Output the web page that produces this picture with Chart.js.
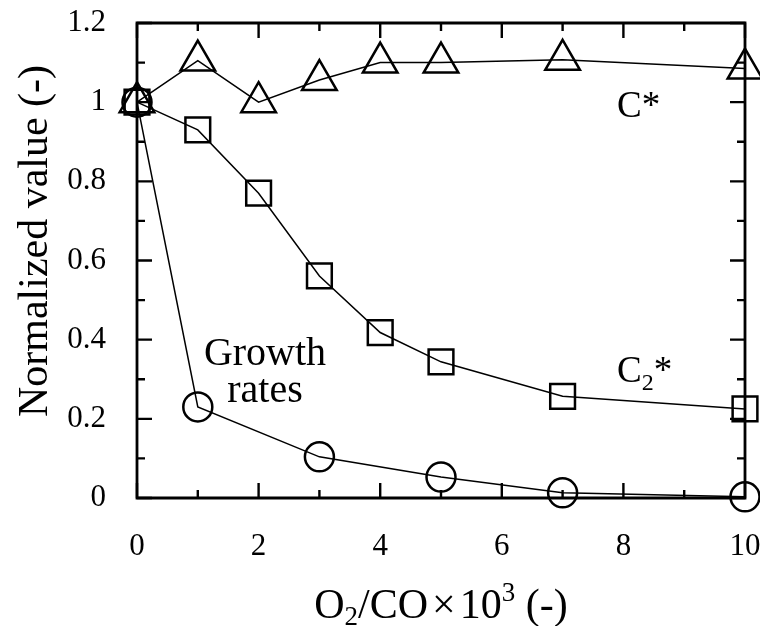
<!DOCTYPE html>
<html>
<head>
<meta charset="utf-8">
<script src="https://cdn.jsdelivr.net/npm/chart.js@4.4.1/dist/chart.umd.min.js"></script>
<style>
  html, body { margin: 0; padding: 0; background: #fff; }
  #wrap { width: 760px; height: 626px; position: relative; }
</style>
</head>
<body>
<div id="wrap"><canvas id="c" width="760" height="626"></canvas></div>
<script>
// ---- data ----
const xCStar = [0, 1, 2, 3, 4, 5, 7, 10];
const cStar = [1.0, 1.105, 1.0, 1.056, 1.10, 1.10, 1.107, 1.085];

const xC2Star = [0, 1, 2, 3, 4, 5, 7, 10];
const c2Star = [1.0, 0.93, 0.77, 0.561, 0.418, 0.344, 0.257, 0.225];

const xGrowth = [0, 1, 3, 5, 7, 10];
const growth = [1.0, 0.23, 0.104, 0.053, 0.013, 0.003];

const xTickValues = [0, 2, 4, 6, 8, 10];
const yTickValues = [0, 0.2, 0.4, 0.6, 0.8, 1, 1.2];

const yTitle = 'Normalized value (-)';
const labelCStar = 'C*';
const labelGrowth = ['Growth', 'rates'];

const SERIF = '"Liberation Serif", "Times New Roman", Times, serif';

function pts(xs, ys) { return xs.map((x, i) => ({ x: x, y: ys[i] })); }

const decorPlugin = {
  id: 'decor',
  beforeDatasetsDraw(chart) {
    const ctx = chart.ctx;
    const xs = chart.scales.x, ys = chart.scales.y;
    const L = xs.getPixelForValue(0), R = xs.getPixelForValue(10);
    const T = ys.getPixelForValue(1.2), B = ys.getPixelForValue(0);
    ctx.save();
    ctx.strokeStyle = '#000';
    ctx.lineCap = 'butt';
    ctx.lineWidth = 2.8;
    ctx.beginPath();
    ctx.rect(L, T, R - L, B - T);
    ctx.stroke();
    ctx.lineWidth = 2.4;
    const major = 15, minor = 8;
    for (let v = 0; v <= 10; v++) {
      const px = xs.getPixelForValue(v);
      const len = (v % 2 === 0) ? major : minor;
      ctx.beginPath();
      ctx.moveTo(px, B); ctx.lineTo(px, B - len);
      ctx.moveTo(px, T); ctx.lineTo(px, T + len);
      ctx.stroke();
    }
    for (let k = 0; k <= 12; k++) {
      const py = ys.getPixelForValue(k / 10);
      const len = (k % 2 === 0) ? major : minor;
      ctx.beginPath();
      ctx.moveTo(L, py); ctx.lineTo(L + len, py);
      ctx.moveTo(R, py); ctx.lineTo(R - len, py);
      ctx.stroke();
    }
    ctx.restore();
  },
  afterDraw(chart) {
    const ctx = chart.ctx;
    const ca = chart.chartArea;
    ctx.save();
    ctx.fillStyle = '#000';
    ctx.textBaseline = 'alphabetic';

    // y axis title
    ctx.save();
    ctx.translate(47, 241);
    ctx.rotate(-Math.PI / 2);
    ctx.font = '42px ' + SERIF;
    ctx.textAlign = 'center';
    ctx.fillText(yTitle, 0, 0);
    ctx.restore();

    // x axis title with sub/superscript
    const big = '42px ' + SERIF, small = '27px ' + SERIF;
    const parts = [
      { t: 'O', f: big, dy: 0 },
      { t: '2', f: small, dy: 7 },
      { t: '/CO', f: big, dy: 0 },
      { t: '\u00D7', f: big, dy: 0, padL: 4, padR: 4 },
      { t: '10', f: big, dy: 0 },
      { t: '3', f: small, dy: -17 },
      { t: ' (-)', f: big, dy: 0 }
    ];
    let total = 0;
    parts.forEach(p => { ctx.font = p.f; p.w = ctx.measureText(p.t).width + (p.padL || 0) + (p.padR || 0); total += p.w; });
    let cx = (ca.left + ca.right) / 2 - total / 2;
    const baseY = 618;
    ctx.textAlign = 'left';
    parts.forEach(p => { ctx.font = p.f; ctx.fillText(p.t, cx + (p.padL || 0), baseY + p.dy); cx += p.w; });

    // C* label
    ctx.font = '37px ' + SERIF;
    ctx.textAlign = 'left';
    ctx.fillText(labelCStar, 617, 117);

    // C2* label
    let lx = 617;
    ctx.font = '37px ' + SERIF;
    ctx.fillText('C', lx, 382); lx += ctx.measureText('C').width;
    ctx.font = '24px ' + SERIF;
    ctx.fillText('2', lx, 390); lx += ctx.measureText('2').width;
    ctx.font = '37px ' + SERIF;
    ctx.fillText('*', lx, 382);

    // Growth rates
    ctx.font = '40px ' + SERIF;
    ctx.textAlign = 'center';
    ctx.fillText(labelGrowth[0], 265, 365);
    ctx.fillText(labelGrowth[1], 265, 402);
    ctx.restore();
  }
};

const common = {
  showLine: true,
  tension: 0,
  borderColor: '#000',
  borderWidth: 1.5,
  pointBorderColor: '#000',
  pointBackgroundColor: 'rgba(0,0,0,0)',
  pointBorderWidth: 2.5,
  pointHoverRadius: 0,
  clip: false
};

function zeroPad(s) { s.paddingLeft = 0; s.paddingRight = 0; s.paddingTop = 0; s.paddingBottom = 0; }

new Chart(document.getElementById('c'), {
  type: 'scatter',
  data: {
    datasets: [
      Object.assign({}, common, { label: 'C*', data: pts(xCStar, cStar), pointStyle: 'triangle', pointRadius: 20 }),
      Object.assign({}, common, { label: 'C2*', data: pts(xC2Star, c2Star), pointStyle: 'rect', pointRadius: 17.5 }),
      Object.assign({}, common, { label: 'Growth rates', data: pts(xGrowth, growth), pointStyle: 'circle', pointRadius: 14.5 })
    ]
  },
  options: {
    responsive: false,
    animation: false,
    events: [],
    layout: { autoPadding: false, padding: { left: 0, right: 15, top: 23, bottom: 0 } },
    plugins: { legend: { display: false }, tooltip: { enabled: false } },
    scales: {
      x: {
        type: 'linear', min: 0, max: 10,
        afterFit(s) { s.height = 128; zeroPad(s); },
        afterBuildTicks(s) { s.ticks = xTickValues.map(v => ({ value: v })); },
        grid: { display: false, drawTicks: false },
        border: { display: false },
        ticks: { color: '#000', padding: 30, font: { family: SERIF, size: 31 }, maxRotation: 0, callback: v => String(v) }
      },
      y: {
        type: 'linear', min: 0, max: 1.2,
        afterFit(s) { s.width = 137; zeroPad(s); },
        afterBuildTicks(s) { s.ticks = yTickValues.map(v => ({ value: v })); },
        grid: { display: false, drawTicks: false },
        border: { display: false },
        ticks: { color: '#000', padding: 31, font: { family: SERIF, size: 31 }, callback: v => String(v) }
      }
    }
  },
  plugins: [decorPlugin]
});
</script>
</body>
</html>
